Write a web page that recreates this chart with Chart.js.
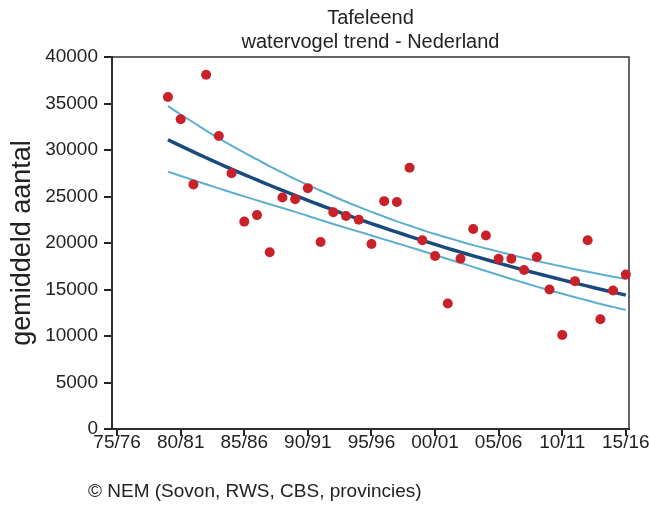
<!DOCTYPE html>
<html><head><meta charset="utf-8">
<script src="https://cdn.jsdelivr.net/npm/chart.js@4.4.0/dist/chart.umd.min.js"></script>
<style>html,body{margin:0;padding:0;background:#fff;overflow:hidden}#wrap{width:649px;height:506px;position:relative}</style>
</head><body><div id="wrap"><canvas id="c" width="649" height="506"></canvas></div>
<script>
const seasons = [1979,1980,1981,1982,1983,1984,1985,1986,1987,1988,1989,1990,1991,1992,1993,1994,1995,1996,1997,1998,1999,2000,2001,2002,2003,2004,2005,2006,2007,2008,2009,2010,2011,2012,2013,2014,2015];
const counts = [35700,33300,26300,38100,31500,27500,22300,23000,19000,24900,24700,25900,20100,23300,22900,22500,19900,24500,24400,28100,20300,18600,13500,18300,21500,20800,18300,18300,17100,18500,15000,10100,15900,20300,11800,14900,16600];
const trend = [31100,30440,29800,29170,28550,27950,27360,26780,26210,25660,25110,24580,24060,23550,23060,22570,22090,21620,21170,20720,20280,19850,19430,19020,18620,18230,17840,17460,17090,16730,16380,16030,15690,15360,15030,14720,14400];
const upper = [34740,33820,32960,32090,31260,30470,29710,28980,28250,27560,26870,26250,25620,25030,24440,23880,23350,22830,22330,21860,21400,20960,20560,20160,19770,19410,19070,18720,18390,18070,17770,17470,17180,16900,16640,16380,16130];
const lower = [27680,27210,26760,26310,25870,25430,25010,24580,24170,23760,23350,22910,22470,22040,21630,21220,20810,20390,19980,19560,19140,18720,18280,17860,17430,16990,16560,16130,15720,15310,14920,14540,14170,13810,13450,13130,12800];
const tickYears = [1975,1980,1985,1990,1995,2000,2005,2010,2015];
const tickLabels = ['75/76','80/81','85/86','90/91','95/96','00/01','05/06','10/11','15/16'];
const titleLines = ['Tafeleend','watervogel trend - Nederland'];
const yTitle = 'gemiddeld aantal';
const footer = '\u00A9 NEM (Sovon, RWS, CBS, provincies)';

const FONT = "'Liberation Sans', Arial, sans-serif";
const TXT = '#222';

const pts = (ys) => seasons.map((x, i) => ({x: x, y: ys[i]}));

const framePlugin = {
  id: 'frame',
  beforeDatasetsDraw(chart) {
    const a = chart.chartArea, ctx = chart.ctx;
    ctx.save();
    ctx.strokeStyle = '#333';
    ctx.lineWidth = 1.5;
    ctx.strokeRect(a.left, a.top, a.right - a.left, a.bottom - a.top);
    ctx.restore();
  }
};
const footerPlugin = {
  id: 'footerText',
  afterDraw(chart) {
    const ctx = chart.ctx;
    ctx.save();
    ctx.font = '19px ' + FONT;
    ctx.fillStyle = TXT;
    ctx.textBaseline = 'middle';
    ctx.textAlign = 'left';
    ctx.fillText(footer, 88, 492);
    ctx.restore();
  }
};

new Chart(document.getElementById('c'), {
  type: 'line',
  data: {
    datasets: [
      {data: pts(counts), showLine: false, pointRadius: 5, pointBackgroundColor: '#c9212a', pointBorderWidth: 0, borderColor: '#c9212a', clip: false},
      {data: pts(trend), borderColor: '#1a4a7b', borderWidth: 3.5, pointRadius: 0, tension: 0.4, fill: false},
      {data: pts(upper), borderColor: '#5eaecf', borderWidth: 2, pointRadius: 0, tension: 0.4, fill: false},
      {data: pts(lower), borderColor: '#5eaecf', borderWidth: 2, pointRadius: 0, tension: 0.4, fill: false}
    ]
  },
  options: {
    responsive: false,
    animation: false,
    layout: {padding: {left: 0, right: 20, top: 0, bottom: 47}},
    plugins: {
      legend: {display: false},
      tooltip: {enabled: false},
      title: {display: true, fullSize: false, text: titleLines, color: TXT, font: {family: FONT, size: 20, weight: 'normal', lineHeight: 1.2}, padding: {top: 6, bottom: 3}}
    },
    scales: {
      x: {
        type: 'linear', min: 1974.6, max: 2015.25,
        afterBuildTicks(s) { s.ticks = tickYears.map(v => ({value: v})); },
        afterFit(s) { s.height = 30; s.paddingLeft = 0; s.paddingRight = 0; },
        ticks: {autoSkip: false, maxRotation: 0, padding: -5, color: TXT, font: {family: FONT, size: 19},
          callback: (v) => tickLabels[tickYears.indexOf(v)]},
        grid: {drawOnChartArea: false, tickLength: 7, color: '#222', lineWidth: 2},
        border: {color: '#222', width: 2}
      },
      y: {
        min: 0, max: 40000,
        afterFit(s) { s.width = 112; },
        ticks: {stepSize: 5000, padding: 6, color: TXT, font: {family: FONT, size: 19},
          callback: (v) => String(v)},
        grid: {drawOnChartArea: false, tickLength: 8, color: '#222', lineWidth: 2},
        border: {color: '#222', width: 2},
        title: {display: true, text: yTitle, color: TXT, font: {family: FONT, size: 27, weight: 'normal'}, padding: {top: 6, bottom: 0}}
      }
    }
  },
  plugins: [framePlugin, footerPlugin]
});
</script></body></html>
